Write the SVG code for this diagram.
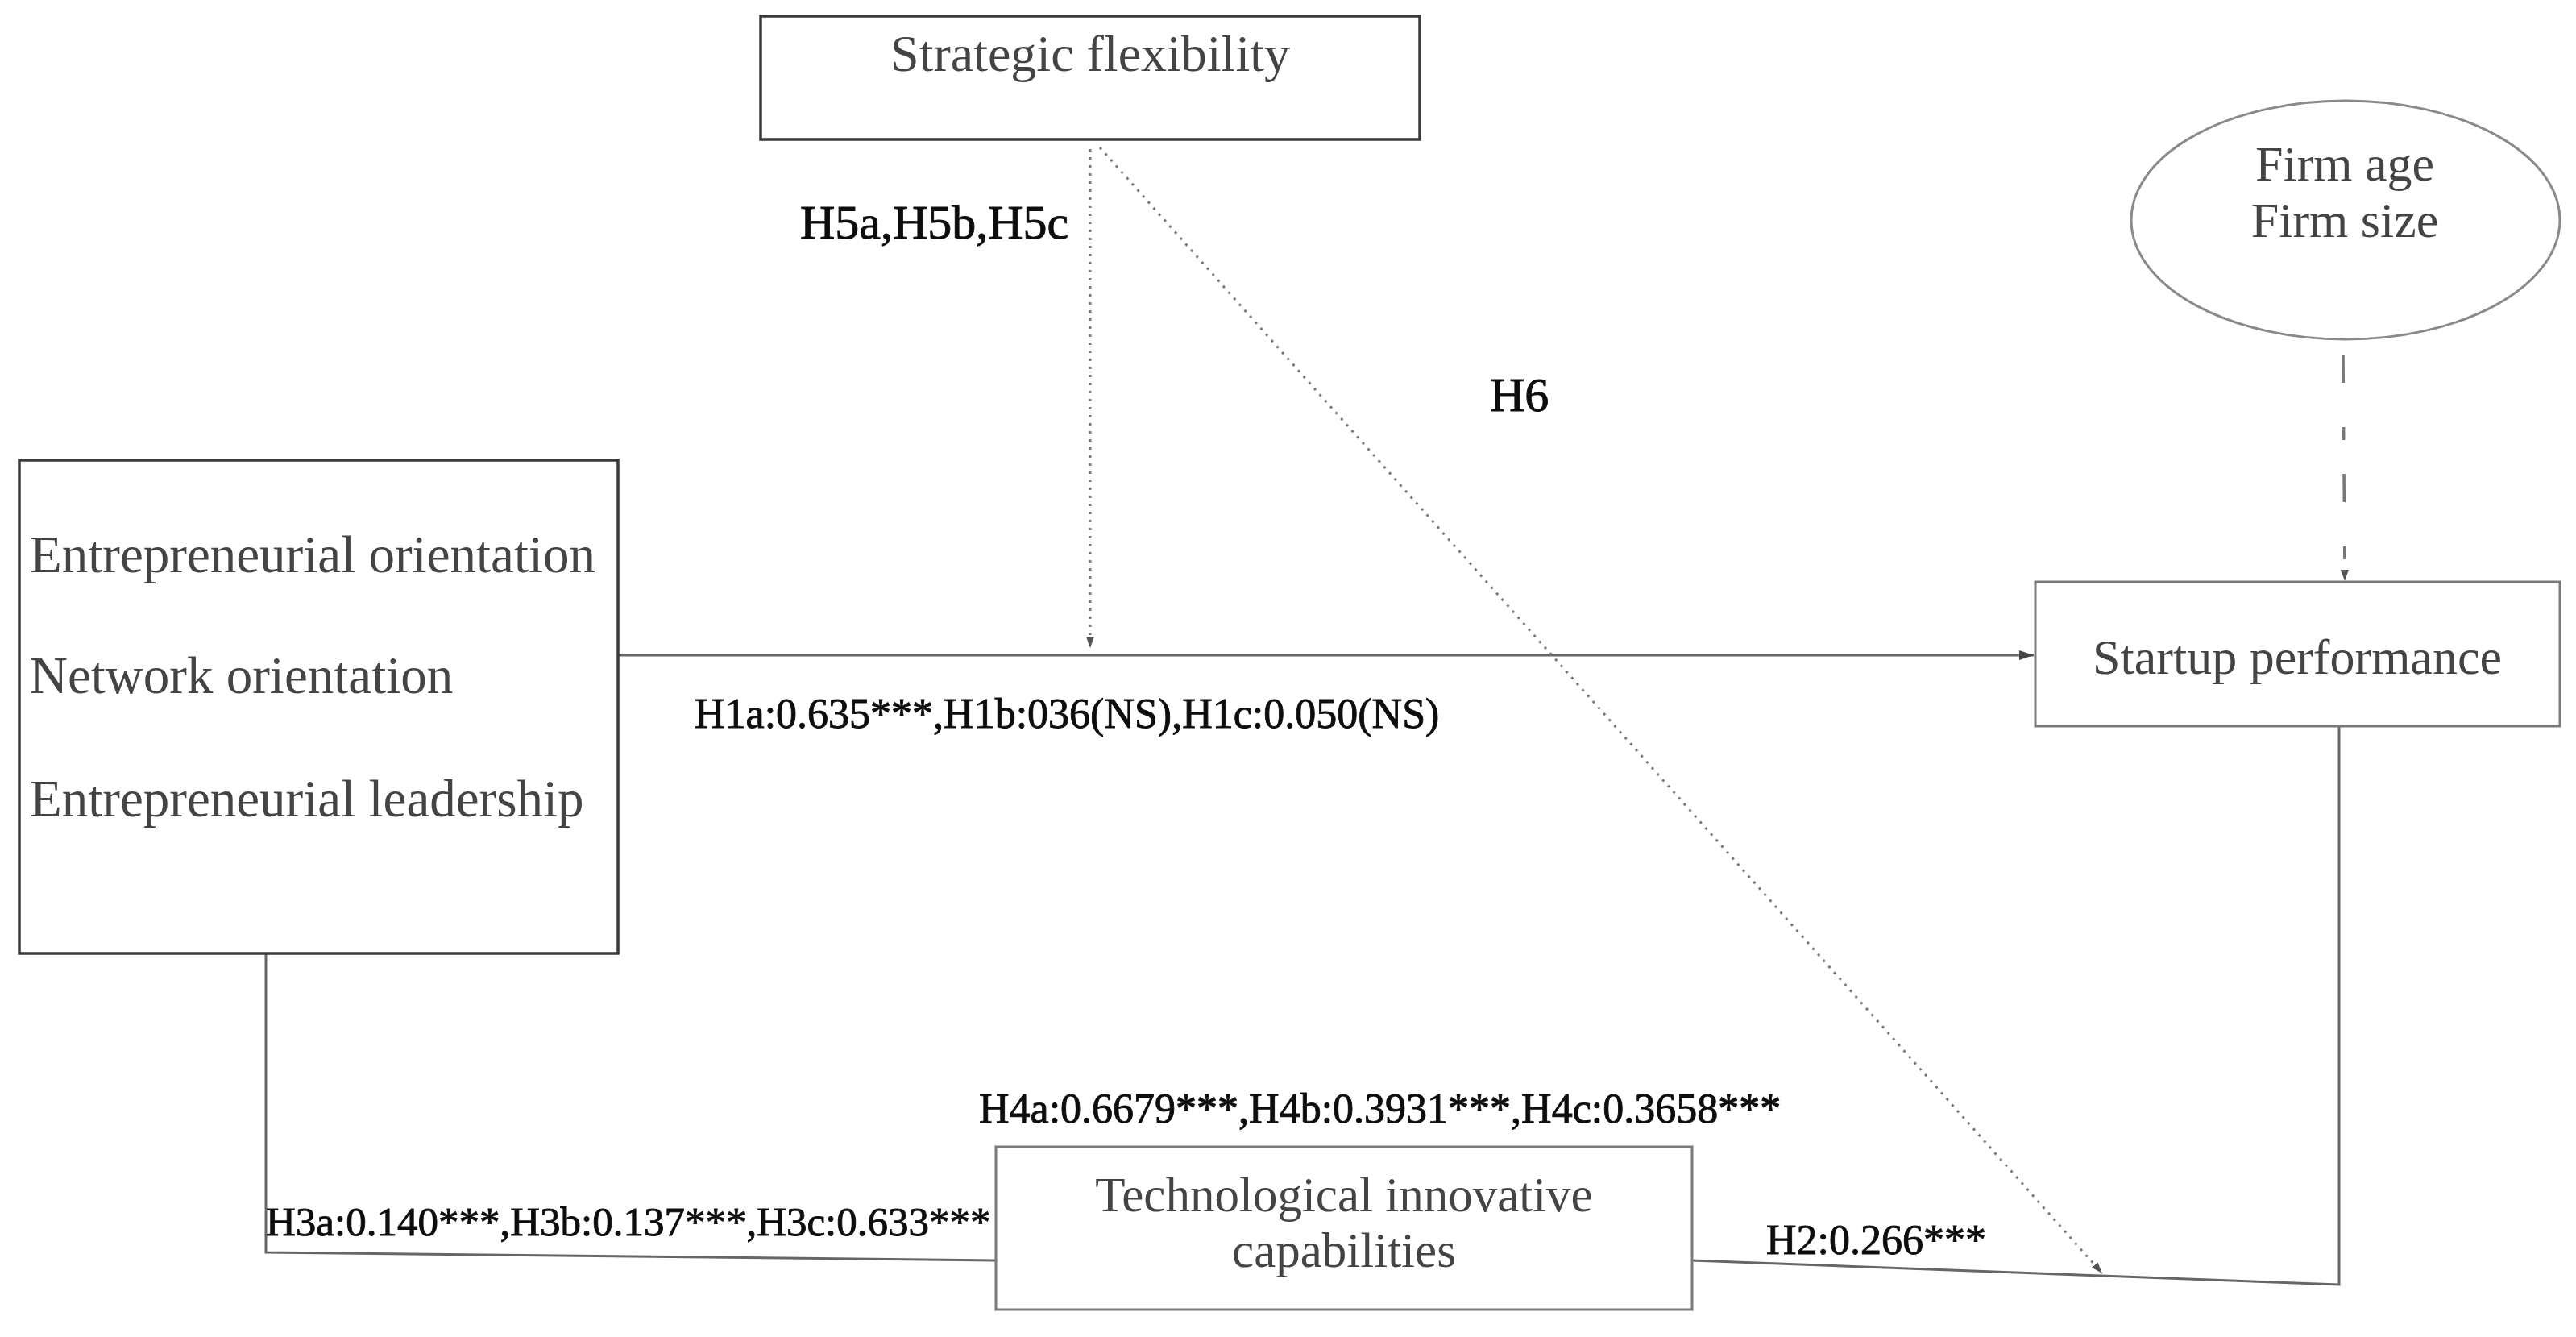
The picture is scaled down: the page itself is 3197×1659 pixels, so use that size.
<svg xmlns="http://www.w3.org/2000/svg" width="3197" height="1659" viewBox="0 0 3197 1659">
  <style>
    .node-text { font-family: "Liberation Serif", "Times New Roman", serif; fill: #444444; }
    .label { font-family: "Liberation Serif", "Times New Roman", serif; fill: #0d0d0d; stroke: #0d0d0d; stroke-width: 0.9; }
    .box-dark { fill: #ffffff; stroke: #3a3a3a; stroke-width: 3.5; }
    .box-light { fill: #ffffff; stroke: #7a7a7a; stroke-width: 3; }
    .solid { fill: none; stroke: #666666; stroke-width: 3; }
    .dotted { fill: none; stroke: #7a7a7a; stroke-width: 3; stroke-dasharray: 3 7; }
    .dashed { fill: none; stroke: #777777; stroke-width: 3.5; stroke-dasharray: 35 55 16 42; }
  </style>
  <defs>
    <marker id="arrow" markerUnits="userSpaceOnUse" markerWidth="20" markerHeight="16" refX="18" refY="8" orient="auto">
      <path d="M0,2 L18,8 L0,14 Z" fill="#444444"/>
    </marker>
    <marker id="arrow-small" markerUnits="userSpaceOnUse" markerWidth="16" markerHeight="14" refX="14" refY="7" orient="auto">
      <path d="M0,2 L14,7 L0,12 Z" fill="#555555"/>
    </marker>
  </defs>
  <rect width="3197" height="1659" fill="#ffffff"/>

  <g id="connectors">
    <!-- EO/NO/EL -> Startup performance -->
    <line class="solid" x1="767" y1="813" x2="2524" y2="813" marker-end="url(#arrow)"/>
    <!-- Strategic flexibility moderation on H1 -->
    <line class="dotted" x1="1353" y1="185" x2="1353" y2="804" marker-end="url(#arrow-small)"/>
    <!-- Strategic flexibility moderation on H2 (H6) -->
    <line class="dotted" x1="1365" y1="183" x2="2609" y2="1580" marker-end="url(#arrow-small)"/>
    <!-- Controls -> Startup performance -->
    <line class="dashed" x1="2908" y1="440" x2="2910" y2="721" marker-end="url(#arrow-small)"/>
    <!-- Left box -> Technological innovative capabilities -->
    <polyline class="solid" points="330,1183 330,1554 1236,1564"/>
    <!-- Technological innovative capabilities -> Startup performance -->
    <polyline class="solid" points="2100,1564 2903,1594 2903,901"/>
  </g>

  <g id="node-strategic-flexibility">
    <rect class="box-dark" x="944" y="20" width="818" height="153"/>
    <text class="node-text" x="1353" y="88" font-size="64" text-anchor="middle">Strategic flexibility</text>
  </g>

  <g id="node-controls">
    <ellipse cx="2911" cy="273" rx="266" ry="148" fill="#ffffff" stroke="#8a8a8a" stroke-width="3"/>
    <text class="node-text" x="2910" y="224" font-size="62" text-anchor="middle">Firm age</text>
    <text class="node-text" x="2910" y="294" font-size="62" text-anchor="middle">Firm size</text>
  </g>

  <g id="node-antecedents">
    <rect class="box-dark" x="24" y="571" width="743" height="612"/>
    <text class="node-text" x="37" y="710" font-size="65">Entrepreneurial orientation</text>
    <text class="node-text" x="37" y="860" font-size="65">Network orientation</text>
    <text class="node-text" x="37" y="1013" font-size="65">Entrepreneurial leadership</text>
  </g>

  <g id="node-startup-performance">
    <rect class="box-light" x="2526" y="722" width="651" height="179"/>
    <text class="node-text" x="2851" y="836" font-size="62" text-anchor="middle">Startup performance</text>
  </g>

  <g id="node-tic">
    <rect class="box-light" x="1236" y="1423" width="864" height="202"/>
    <text class="node-text" x="1668" y="1503" font-size="61" text-anchor="middle">Technological innovative</text>
    <text class="node-text" x="1668" y="1572" font-size="61" text-anchor="middle">capabilities</text>
  </g>

  <g id="labels">
    <text class="label" x="993" y="296" font-size="60">H5a,H5b,H5c</text>
    <text class="label" x="1849" y="510" font-size="60">H6</text>
    <text class="label" x="862" y="903" font-size="52">H1a:0.635***,H1b:036(NS),H1c:0.050(NS)</text>
    <text class="label" x="1215" y="1393" font-size="52">H4a:0.6679***,H4b:0.3931***,H4c:0.3658***</text>
    <text class="label" x="330" y="1533" font-size="51">H3a:0.140***,H3b:0.137***,H3c:0.633***</text>
    <text class="label" x="2192" y="1556" font-size="52">H2:0.266***</text>
  </g>
</svg>
